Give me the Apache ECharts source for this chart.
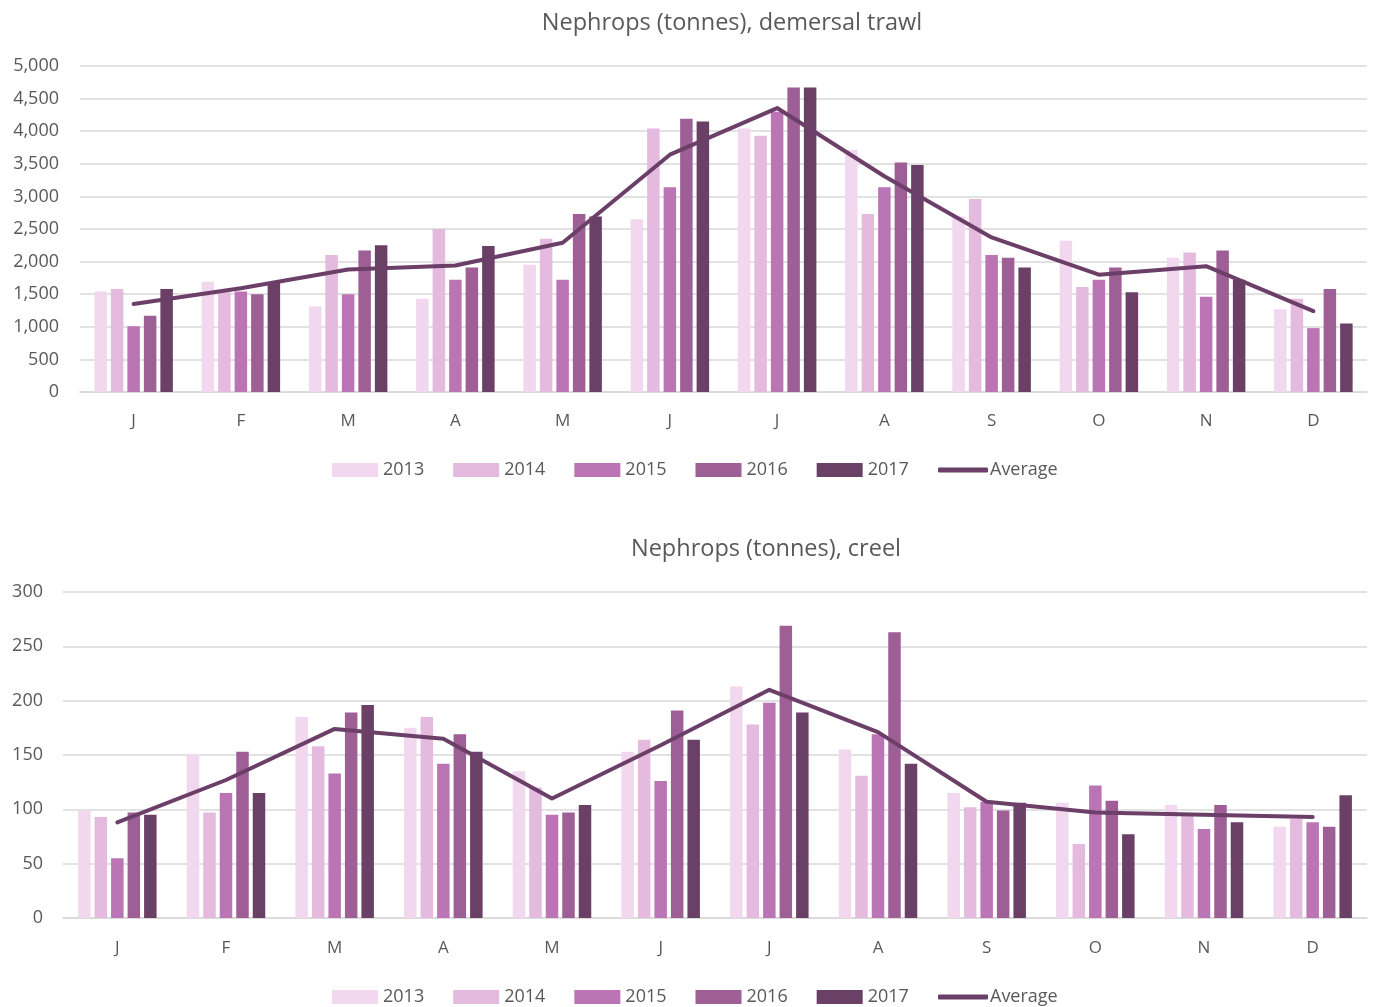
<!DOCTYPE html>
<html>
<head>
<meta charset="utf-8">
<script src="https://cdn.jsdelivr.net/npm/echarts@6/dist/echarts.min.js"></script>
<style>
  html, body { margin: 0; padding: 0; background: #fff; }
  #chart { width: 1375px; height: 1007px; }
</style>
</head>
<body>
<div id="chart"></div>
<script>
// Month initials for the x axis
const months = ['J', 'F', 'M', 'A', 'M', 'J', 'J', 'A', 'S', 'O', 'N', 'D'];
const years = ['2013', '2014', '2015', '2016', '2017'];

// Demersal trawl landings (tonnes)
const trawl2013 = [1540, 1690, 1310, 1430, 1950, 2650, 4040, 3710, 2690, 2320, 2060, 1270];
const trawl2014 = [1580, 1530, 2100, 2500, 2350, 4040, 3930, 2730, 2960, 1610, 2140, 1430];
const trawl2015 = [1010, 1540, 1500, 1720, 1720, 3140, 4300, 3140, 2100, 1720, 1460, 980];
const trawl2016 = [1170, 1500, 2170, 1910, 2730, 4190, 4670, 3520, 2060, 1910, 2170, 1580];
const trawl2017 = [1580, 1680, 2250, 2240, 2690, 4150, 4670, 3480, 1910, 1530, 1720, 1050];
const trawlAverage = [1350, 1590, 1880, 1940, 2290, 3640, 4355, 3310, 2370, 1800, 1930, 1240];

// Creel landings (tonnes)
const creel2013 = [99, 151, 185, 175, 135, 153, 213, 155, 115, 106, 104, 84];
const creel2014 = [93, 97, 158, 185, 120, 164, 178, 131, 102, 68, 95, 91];
const creel2015 = [55, 115, 133, 142, 95, 126, 198, 169, 107, 122, 82, 88];
const creel2016 = [97, 153, 189, 169, 97, 191, 269, 263, 99, 108, 104, 84];
const creel2017 = [95, 115, 196, 153, 104, 164, 189, 142, 106, 77, 88, 113];
const creelAverage = [88, 127, 174, 165, 110, 159, 210, 171, 107, 97, 95, 93];

const yearColors = ['#f1d8ee', '#e4badf', '#bb75b4', '#9d5f95', '#6a4066'];
const lineColor = '#6b3f67';
const textColor = '#595959';
const gridColor = '#d9d9d9';
const font = '"Open Sans", Lato, sans-serif';

const trawlYears = [trawl2013, trawl2014, trawl2015, trawl2016, trawl2017];
const creelYears = [creel2013, creel2014, creel2015, creel2016, creel2017];

function barSeries(values, idx, axisIdx) {
  return {
    name: years[idx],
    type: 'bar',
    xAxisIndex: axisIdx,
    yAxisIndex: axisIdx,
    data: values,
    barWidth: 12.5,
    barGap: '32%',
    itemStyle: { color: yearColors[idx] },
    emphasis: { disabled: true }
  };
}

function averageSeries(values, axisIdx) {
  return {
    name: 'Average',
    type: 'line',
    xAxisIndex: axisIdx,
    yAxisIndex: axisIdx,
    data: values,
    symbol: 'none',
    z: 5,
    lineStyle: { color: lineColor, width: 4, cap: 'round', join: 'round' },
    itemStyle: { color: lineColor },
    emphasis: { disabled: true }
  };
}

const legendText = { color: textColor, fontSize: 18, fontFamily: font };

// Year swatches
function yearLegendAt(top) {
  return {
    top: top,
    left: 332,
    padding: 0,
    itemWidth: 46,
    itemHeight: 14,
    itemGap: 29,
    textStyle: legendText,
    data: years.map(y => ({ name: y, icon: 'rect' }))
  };
}

// Average line entry, drawn as a thick rounded bar
function averageLegendAt(top) {
  return {
    top: top,
    left: 938,
    padding: 0,
    itemWidth: 50,
    itemHeight: 5,
    textStyle: Object.assign({}, legendText, { padding: [0, 0, 0, -3] }),
    data: [{ name: 'Average', icon: 'roundRect', itemStyle: { color: lineColor } }]
  };
}

function xAxisFor(gridIndex, margin) {
  return {
    type: 'category',
    gridIndex: gridIndex,
    data: months,
    axisLine: { lineStyle: { color: gridColor, width: 1.5 } },
    axisTick: { show: false },
    axisLabel: { color: textColor, fontSize: 17, fontFamily: font, margin: margin }
  };
}

function yAxisFor(gridIndex, max, interval, margin) {
  return {
    type: 'value',
    gridIndex: gridIndex,
    min: 0,
    max: max,
    interval: interval,
    axisLine: { show: false },
    axisTick: { show: false },
    splitLine: { lineStyle: { color: gridColor, width: 1.5 } },
    axisLabel: {
      color: textColor, fontSize: 18, fontFamily: font, margin: margin,
      formatter: v => v.toLocaleString('en-US')
    }
  };
}

const series = [];
trawlYears.forEach((vals, i) => series.push(barSeries(vals, i, 0)));
series.push(averageSeries(trawlAverage, 0));
creelYears.forEach((vals, i) => series.push(barSeries(vals, i, 1)));
series.push(averageSeries(creelAverage, 1));

const chart = echarts.init(document.getElementById('chart'), null, { renderer: 'canvas' });
chart.setOption({
  animation: false,
  backgroundColor: '#ffffff',
  title: [
    {
      text: 'Nephrops (tonnes), demersal trawl',
      left: 727, top: 6, textAlign: 'center',
      textStyle: { color: textColor, fontSize: 23.5, fontWeight: 'normal', fontFamily: font }
    },
    {
      text: 'Nephrops (tonnes), creel',
      left: 761, top: 532, textAlign: 'center',
      textStyle: { color: textColor, fontSize: 23.5, fontWeight: 'normal', fontFamily: font }
    }
  ],
  legend: [yearLegendAt(461), averageLegendAt(461), yearLegendAt(988), averageLegendAt(988)],
  grid: [
    { left: 80, right: 8, top: 66, height: 326 },
    { left: 63, right: 8, top: 592, height: 326 }
  ],
  xAxis: [xAxisFor(0, 21), xAxisFor(1, 22)],
  yAxis: [yAxisFor(0, 5000, 500, 21), yAxisFor(1, 300, 50, 20)],
  series: series
});
</script>
</body>
</html>
